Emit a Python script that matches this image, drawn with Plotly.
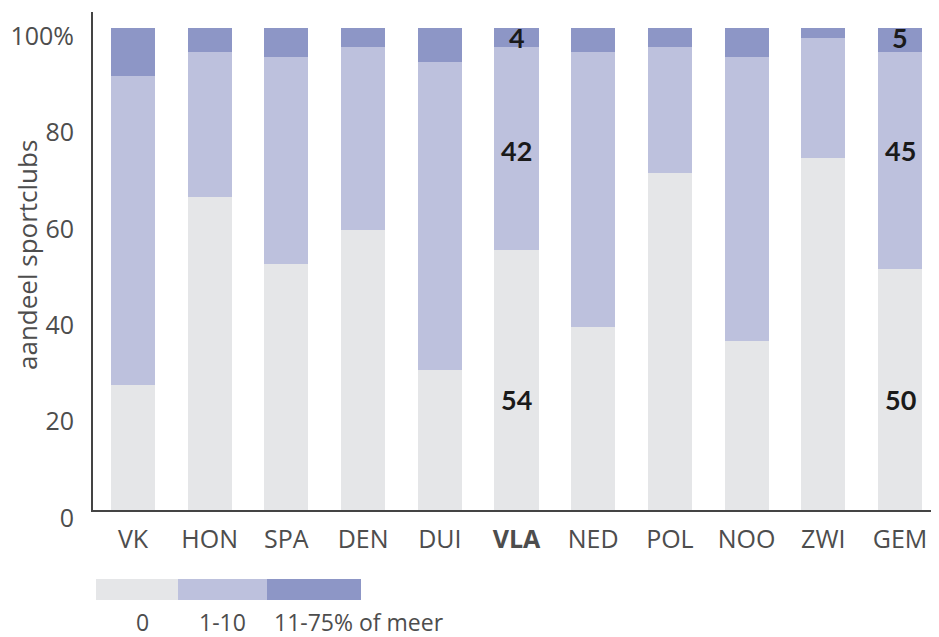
import plotly.graph_objects as go

landen = ['VK', 'HON', 'SPA', 'DEN', 'DUI', 'VLA', 'NED', 'POL', 'NOO', 'ZWI', 'GEM']
geen = [26, 65, 51, 58, 29, 54, 38, 70, 35, 73, 50]
een_tot_tien = [64, 30, 43, 38, 64, 42, 57, 26, 59, 25, 45]
elf_of_meer = [10, 5, 6, 4, 7, 4, 5, 4, 6, 2, 5]

reeksen = ['0', '1-10', '11-75% of meer']
kleuren = ['#e5e6e8', '#bdc1dd', '#8d96c6']

y_ticks = [0, 20, 40, 60, 80, 100]
y_ticktext = ['0', '20', '40', '60', '80', '100%']

# labelled bars (VLA and average), the label rows are a style choice
gelabeld = ['VLA', 'GEM']
label_rij = [23, 74.5, 98]

# the page body has an 8px margin, so everything is laid out 8px in;
# the visible area ends around page x 931
OFF = 8
FIG_W, FIG_H = 931 - OFF, 637 - OFF
# plot area in page pixels: x 93..931, y 12..510
L, T = 93 - OFF, 12 - OFF
W, H = FIG_W - L, 498
STAP = 76.7  # px per category
FONT = 'Open Sans'
GRIJS = '#4d4d4d'


def px(x):
    # page pixel -> paper x
    return (x - OFF - L) / W


def py(y):
    # page pixel -> paper y
    return (T + H - (y - OFF)) / H


fig = go.Figure()
for naam, waarden, kleur in zip(reeksen, [geen, een_tot_tien, elf_of_meer], kleuren):
    fig.add_trace(go.Bar(
        x=landen, y=waarden, name=naam, marker_color=kleur,
        marker_line_width=0, hoverinfo='x+y+name',
    ))

for land in gelabeld:
    i = landen.index(land)
    for waarden, rij in zip([geen, een_tot_tien, elf_of_meer], label_rij):
        fig.add_annotation(
            x=land, y=rij, text='<b>%d</b>' % waarden[i], showarrow=False,
            font=dict(family='Lato', size=27, color='#1a1a1a', weight=900),
        )

# y title as annotation so the margin stays fixed
fig.add_annotation(xref='paper', yref='paper', x=px(27), y=py(255),
                   xanchor='center', yanchor='middle',
                   text='aandeel sportclubs', textangle=-90, showarrow=False,
                   font=dict(family=FONT, size=26, color=GRIJS))

# legend drawn as a colour strip
strip = [96, 178, 267, 361]
for k, kleur in enumerate(kleuren):
    fig.add_shape(type='rect', xref='paper', yref='paper',
                  x0=px(strip[k]), x1=px(strip[k + 1]), y0=py(579), y1=py(600),
                  fillcolor=kleur, line_width=0)
legend_x = [142, 222, 272]
legend_anchor = ['center', 'center', 'left']
for naam, lx, anc in zip(reeksen, legend_x, legend_anchor):
    fig.add_annotation(xref='paper', yref='paper', x=px(lx), y=py(622),
                       text=naam, showarrow=False, xanchor=anc, yanchor='middle',
                       font=dict(family=FONT, size=23, color=GRIJS))

fig.update_layout(
    barmode='stack',
    bargap=0.426,
    width=FIG_W, height=FIG_H,
    margin=dict(l=L, r=0, t=T, b=FIG_H - T - H, pad=0),
    paper_bgcolor='white', plot_bgcolor='white',
    showlegend=False,
    font=dict(family=FONT, size=25, color=GRIJS),
)
fig.update_xaxes(
    range=[-(133 - 93) / STAP, -(133 - 93) / STAP + W / STAP],
    tickvals=landen,
    ticktext=['<b>VLA</b>' if l == 'VLA' else l for l in landen],
    showline=True, linecolor='#444444', linewidth=2,
    ticks='', showgrid=False, ticklabelstandoff=6, automargin=False,
)
fig.update_yaxes(
    range=[0, H / 4.82],
    tickvals=y_ticks, ticktext=y_ticktext,
    showline=True, linecolor='#444444', linewidth=2,
    ticks='', showgrid=False, zeroline=False,
    ticklabelstandoff=12, ticklabelshift=8, ticklabeloverflow='allow',
    automargin=False,
)

fig.write_html('out.html')
